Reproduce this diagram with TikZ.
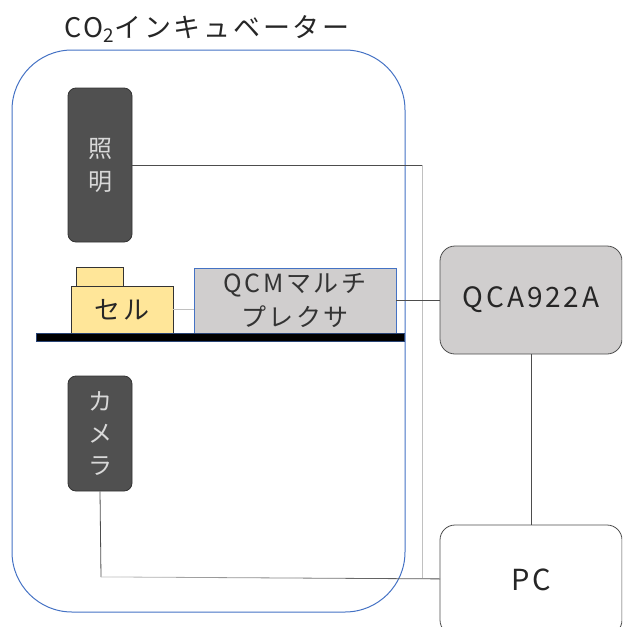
\documentclass[tikz,border=0pt]{standalone}
\usepackage{fontspec}
\setmainfont{Noto Sans CJK JP}[LetterSpace=10]
\definecolor{frameblue}{HTML}{4472C4}
\definecolor{darkbox}{HTML}{505050}
\definecolor{lightbox}{HTML}{D0CECE}
\definecolor{cellfill}{HTML}{FFE699}
\definecolor{linedark}{HTML}{4D4D4D}
\definecolor{linelight}{HTML}{C0C0C0}
\tikzset{
  darkdev/.style={draw=black!80, fill=darkbox, rounded corners=8pt, line width=0.8pt,
    text=white!85!black, font=\fontsize{24}{33}\selectfont, align=center, inner sep=0pt},
  graybox/.style={draw=linedark, fill=lightbox, rounded corners=15pt, line width=0.8pt,
    text=black!85, font=\fontsize{28}{30}\selectfont, inner sep=0pt},
  wire/.style={draw=linedark, line width=0.8pt},
  wirelight/.style={draw=linelight, line width=0.8pt},
}
\begin{document}
\begin{tikzpicture}[x=1pt,y=-1pt]
\useasboundingbox (0,0) rectangle (622,627);
\begin{scope}
\clip (0,0) rectangle (622,627);
% incubator frame
\node[draw=frameblue, line width=1pt, rounded corners=60pt, minimum width=393pt, minimum height=562pt, inner sep=0pt] (incub) at (208.5,331) {};
\node[text=black!85, font=\fontsize{27}{30}\selectfont] (title) at (207,29) {CO\textsubscript{2}インキュベーター};
% devices
\node[darkdev, minimum width=64pt, minimum height=154pt] (light) at (100,165) {照\\明};
\node[darkdev, minimum width=64pt, minimum height=115pt, font=\fontsize{24}{32}\selectfont] (cam) at (100,433.5) {カ\\メ\\ラ};
\node[draw=black!80, fill=cellfill, line width=0.8pt, minimum width=47pt, minimum height=20pt, inner sep=0pt] (celltop) at (99.5,277) {};
\node[draw=black!80, fill=cellfill, line width=0.8pt, minimum width=102pt, minimum height=47pt, inner sep=0pt, font=\fontsize{26}{30}\selectfont, text=black!85] (cell) at (122,309.5) {セル};
\node[draw=frameblue, fill=lightbox, line width=0.8pt, minimum width=202pt, minimum height=65pt, inner sep=0pt, align=center, text=black!80, font=\fontsize{25}{34}\selectfont] (qcm) at (295,300.5) {QCMマルチ\\プレクサ};
\node[draw=frameblue!60!black, fill=black, line width=0.6pt, minimum width=368pt, minimum height=8pt, inner sep=0pt] (bar) at (220,337) {};
\node[graybox, minimum width=182pt, minimum height=108pt] (qca) at (531,300) {QCA922A};
\node[graybox, fill=white, minimum width=182pt, minimum height=110pt, font=\fontsize{29}{30}\selectfont] (pc) at (531,580) {PC};
% wires
\coordinate (lt) at (422,165);
\coordinate (lb) at (422,578);
\coordinate (cb) at (101,577);
\draw[wire] (light.east) -- (lt);
\draw[wirelight] (lt) -- (lb);
\draw[wirelight] (cell.east) -- (cell.east -| qcm.west);
\draw[wire] (qcm.east) -- (qca.west |- qcm.east);
\draw[wire] (qca.south) -- (pc.north);
\draw[wire] (cam.south) -- (cb);
\shade[left color=linelight, right color=linedark] (101,576.5) -- (440,578.5) -- (440,579.3) -- (101,577.3) -- cycle;
\end{scope}
\end{tikzpicture}
\end{document}
